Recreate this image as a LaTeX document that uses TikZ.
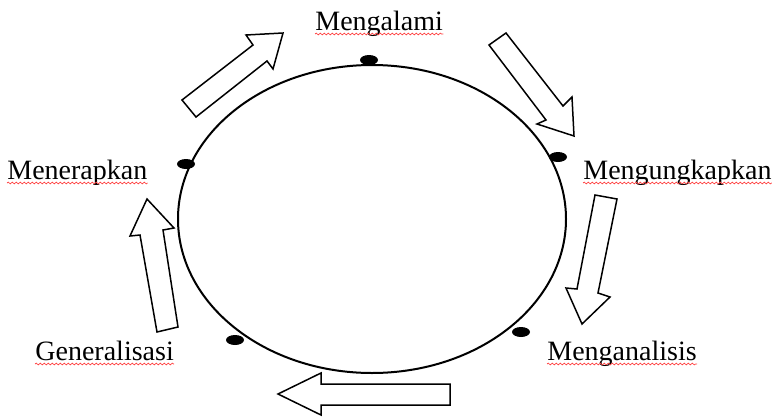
\documentclass[tikz,border=0pt]{standalone}
\usepackage{fontspec}
\setmainfont{Liberation Serif}
\usetikzlibrary{decorations.pathmorphing,calc}
\begin{document}
\begin{tikzpicture}[x=0.5pt,y=-0.5pt,
  lab/.style={anchor=base west,inner sep=0pt,font=\fontsize{14}{17}\selectfont},
  blockarrow/.style={draw=black,fill=white,line width=0.75pt,line join=miter},
  squiggle/.style={draw=red!75,line width=0.35pt,decorate,decoration={snake,segment length=2pt,amplitude=0.45pt}}]
\useasboundingbox (0,0) rectangle (777,418);
% main cycle
\draw[line width=1pt] (372,219) ellipse [x radius=97pt,y radius=77pt];
% dots
\fill (369,60) ellipse [x radius=4.5pt,y radius=2.5pt];
\fill (558,157) ellipse [x radius=4.5pt,y radius=2.5pt];
\fill (521,332) ellipse [x radius=4.5pt,y radius=2.5pt];
\fill (235,340) ellipse [x radius=4.5pt,y radius=2.5pt];
\fill (186,164) ellipse [x radius=4.5pt,y radius=2.5pt];
% labels
\node[lab] (m1) at (315,30) {Mengalami};
\node[lab] (m2) at (583,179) {Mengungkapkan};
\node[lab] (m3) at (547,360) {Menganalisis};
\node[lab] (m4) at (35,360) {Generalisasi};
\node[lab] (m5) at (7,179) {Menerapkan};
\foreach \n in {m1,m2,m3,m4,m5}
  \path[squiggle] ($(\n.base west)+(0,4)$) -- ($(\n.base east)+(0,4)$);
% block arrows
\draw[blockarrow] (182,100) -- (253,45) -- (246,35) -- (283,33) -- (273,69) -- (267,61) -- (196,117) -- cycle;
\draw[blockarrow] (489,45) -- (546,120) -- (537,124) -- (574,136) -- (572,97) -- (563,106) -- (506,33) -- cycle;
\draw[blockarrow] (595,195) -- (577,289) -- (566,288) -- (582,324) -- (610,297) -- (598,293) -- (617,199) -- cycle;
\draw[blockarrow] (157,332) -- (140,235) -- (130,236) -- (147,199) -- (174,228) -- (163,230) -- (178,327) -- cycle;
\draw[blockarrow] (450,384) -- (321,384) -- (321,373) -- (278,394) -- (321,415) -- (321,405) -- (450,405) -- cycle;
\end{tikzpicture}
\end{document}
